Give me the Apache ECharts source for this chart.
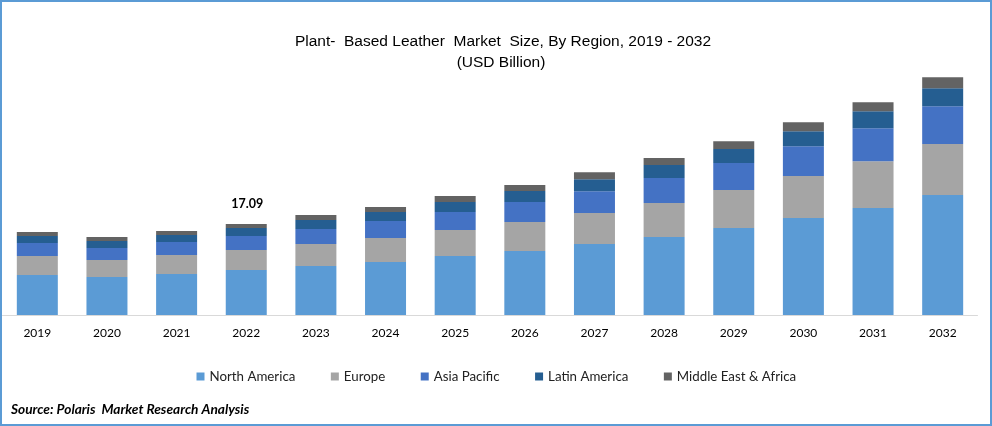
<!DOCTYPE html>
<html>
<head>
<meta charset="utf-8">
<title>Plant-Based Leather Market Size</title>
<script src="https://cdn.jsdelivr.net/npm/echarts@6/dist/echarts.min.js"></script>
<style>
  html, body { margin: 0; padding: 0; background: #fff; }
  #chart { width: 992px; height: 426px; }
</style>
</head>
<body>
<div id="chart"></div>
<script>
var years = ['2019', '2020', '2021', '2022', '2023', '2024', '2025', '2026', '2027', '2028', '2029', '2030', '2031', '2032'];
var northAmerica = [7.51, 7.14, 7.70, 8.45, 9.20, 9.95, 11.08, 12.02, 13.33, 14.65, 16.34, 18.22, 20.09, 22.54];
var europe = [3.57, 3.19, 3.57, 3.76, 4.13, 4.51, 4.88, 5.45, 5.82, 6.39, 7.14, 7.89, 8.83, 9.58];
var asiaPacific = [2.44, 2.25, 2.44, 2.63, 2.82, 3.19, 3.38, 3.76, 4.13, 4.70, 5.07, 5.63, 6.20, 7.14];
var latinAmerica = [1.31, 1.31, 1.31, 1.50, 1.69, 1.69, 1.88, 2.07, 2.25, 2.44, 2.63, 2.82, 3.19, 3.38];
var middleEast = [0.75, 0.75, 0.75, 0.75, 0.94, 0.94, 1.13, 1.13, 1.31, 1.31, 1.50, 1.69, 1.69, 2.07];
var totalLabels = { '2022': '17.09' };

var uiFont = 'Lato';
var titleStyle = { fontFamily: 'Liberation Sans', fontSize: 15.5, fontWeight: 'normal', color: '#000' };

function stackSeries(name, values, color) {
  return {
    name: name,
    type: 'bar',
    stack: 'total',
    barWidth: 41,
    data: values,
    itemStyle: { color: color }
  };
}

var myChart = echarts.init(document.getElementById('chart'), null, { renderer: 'canvas' });

var topSeries = stackSeries('Middle East & Africa', middleEast, '#636363');
// only 2022 carries a label in the original
topSeries.label = {
  show: true,
  position: 'top',
  distance: 14,
  offset: [1, 0],
  fontFamily: uiFont,
  fontSize: 12.5,
  fontWeight: 'bold',
  color: '#000',
  formatter: function (p) { return totalLabels[p.name] || ''; }
};

myChart.setOption({
  animation: false,
  backgroundColor: '#fff',
  title: [
    {
      text: 'Plant-  Based Leather  Market  Size, By Region, 2019 - 2032',
      left: 503,
      top: 34,
      padding: 0,
      textAlign: 'center',
      textStyle: titleStyle
    },
    {
      text: '(USD Billion)',
      left: 501,
      top: 55,
      padding: 0,
      textAlign: 'center',
      textStyle: titleStyle
    },
    {
      text: 'Source: Polaris  Market Research Analysis',
      left: 11,
      top: 403,
      padding: 0,
      textStyle: { fontFamily: uiFont, fontSize: 13.7, fontWeight: 'bold', fontStyle: 'italic', color: '#000' }
    }
  ],
  legend: {
    left: 196.5,
    top: 370,
    padding: 0,
    itemWidth: 8,
    itemHeight: 8,
    itemGap: 35.5,
    icon: 'rect',
    textStyle: { fontFamily: uiFont, fontSize: 13.3, color: '#222' }
  },
  grid: { left: 2.5, width: 975, top: 49, height: 266 },
  xAxis: {
    type: 'category',
    data: years,
    axisTick: { show: false },
    axisLine: { lineStyle: { color: '#d9d9d9', width: 1 } },
    axisLabel: { fontFamily: uiFont, fontSize: 12, color: '#000', margin: 12.5 }
  },
  yAxis: {
    type: 'value',
    min: 0,
    max: 50,
    show: false
  },
  series: [
    stackSeries('North America', northAmerica, '#5B9BD5'),
    stackSeries('Europe', europe, '#A5A5A5'),
    stackSeries('Asia Pacific', asiaPacific, '#4472C4'),
    stackSeries('Latin America', latinAmerica, '#255E91'),
    topSeries
  ],
  graphic: [{
    type: 'rect',
    silent: true,
    shape: { x: 1, y: 1, width: 990, height: 424 },
    style: { fill: 'none', stroke: '#5B9BD5', lineWidth: 2 }
  }]
});
</script>
</body>
</html>
